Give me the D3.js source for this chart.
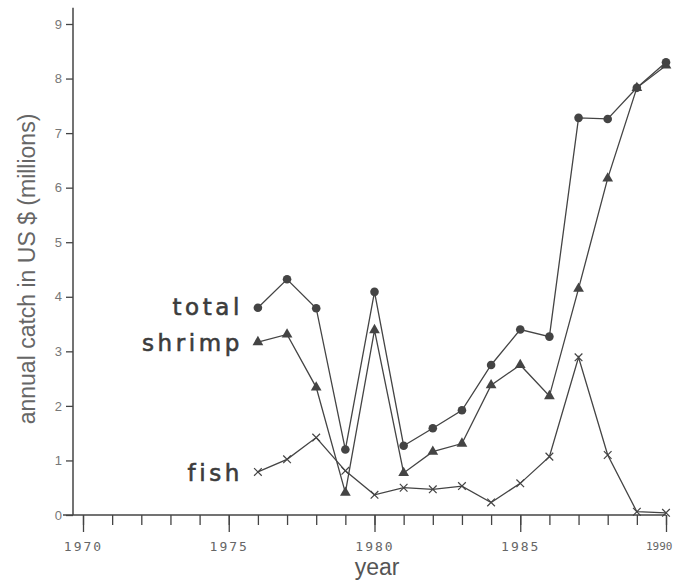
<!DOCTYPE html>
<html>
<head>
<meta charset="utf-8">
<script src="https://cdn.jsdelivr.net/npm/d3@7"></script>
<style>
  body { margin: 0; background: #fff; }
  svg { display: block; }
</style>
</head>
<body>
<div id="chart"></div>
<script>
/* Data */
const YEARS = [1976, 1977, 1978, 1979, 1980, 1981, 1982, 1983, 1984, 1985, 1986, 1987, 1988, 1989, 1990]
const TOTAL = [3.80, 4.32, 3.79, 1.20, 4.09, 1.27, 1.59, 1.92, 2.75, 3.40, 3.27, 7.28, 7.26, 7.83, 8.30]
const SHRIMP = [3.17, 3.31, 2.34, 0.41, 3.39, 0.77, 1.16, 1.31, 2.38, 2.75, 2.18, 4.15, 6.17, 7.83, 8.24]
const FISH = [0.79, 1.02, 1.42, 0.81, 0.37, 0.50, 0.47, 0.53, 0.23, 0.58, 1.07, 2.89, 1.10, 0.06, 0.04]
const X_TICKS = [1970, 1975, 1980, 1985, 1990]
const Y_TICKS = [0, 1, 2, 3, 4, 5, 6, 7, 8, 9]

/* Layout */
const WIDTH = 673
const HEIGHT = 582
const INK = "#444"
const AXIS_X = 73

const svg = d3.select("#chart")
              .append("svg")
              .attr("width", WIDTH)
              .attr("height", HEIGHT);

const x = d3.scaleLinear().domain([1970, 1990]).range([83, 666]);
const y = d3.scaleLinear().domain([0, 9]).range([515, 24]);

/* y axis */
const yAxis = svg.append("g")
                 .attr("transform", "translate(" + AXIS_X + ",0)")
                 .call(d3.axisLeft(y).tickValues(Y_TICKS).tickSize(7).tickPadding(4).tickFormat(d3.format("d")));
yAxis.select(".domain").remove();
yAxis.selectAll(".tick line").attr("stroke", INK).attr("stroke-width", 1.3);
yAxis.selectAll(".tick text")
     .attr("fill", "#777")
     .style("font-family", "Liberation Sans, Arial, sans-serif")
     .style("font-size", "13px");
svg.append("line")
   .attr("x1", AXIS_X).attr("x2", AXIS_X)
   .attr("y1", y(0)).attr("y2", y(9.3))
   .attr("stroke", INK).attr("stroke-width", 1.5);

/* x axis: minor ticks every year, major every five */
const xAxisG = svg.append("g").attr("transform", "translate(0," + y(0) + ")");
const minor = xAxisG.append("g")
                    .call(d3.axisBottom(x).ticks(20).tickSize(10).tickFormat(""));
minor.select(".domain").remove();
minor.selectAll(".tick line").attr("stroke", INK).attr("stroke-width", 1.3);
const major = xAxisG.append("g")
                    .call(d3.axisBottom(x).tickValues(X_TICKS).tickSize(17).tickPadding(10).tickFormat(d3.format("d")));
major.select(".domain").remove();
major.selectAll(".tick line").attr("stroke", INK).attr("stroke-width", 1.3);
major.selectAll(".tick text")
     .attr("fill", "#666")
     .style("font-family", "DejaVu Sans Mono, monospace")
     .style("font-size", "13px")
     .style("letter-spacing", "2px");
// last label sits against the right edge, squeezed as in the original
major.selectAll(".tick text")
     .filter((d) => d === 1990)
     .attr("text-anchor", "end")
     .attr("x", 6)
     .style("letter-spacing", "0px")
     .style("font-size", "11px");
svg.append("line")
   .attr("x1", AXIS_X - 10).attr("x2", x(1990))
   .attr("y1", y(0)).attr("y2", y(0))
   .attr("stroke", INK).attr("stroke-width", 1.5);

/* axis titles */
svg.append("text")
   .attr("x", 377).attr("y", 575)
   .attr("text-anchor", "middle")
   .attr("fill", "#555")
   .style("font-family", "Liberation Sans, Arial, sans-serif")
   .style("font-size", "23px")
   .text("year");
svg.append("text")
   .attr("transform", "translate(35,269) rotate(-90)")
   .attr("text-anchor", "middle")
   .attr("fill", "#666")
   .style("font-family", "Liberation Sans, Arial, sans-serif")
   .style("font-size", "23px")
   .text("annual catch in US $ (millions)");

/* series */
const line = (vals) => d3.line().x((d, i) => x(YEARS[i])).y((d) => y(d))(vals);
[TOTAL, SHRIMP, FISH].forEach((vals) => {
  svg.append("path")
     .attr("d", line(vals))
     .attr("fill", "none")
     .attr("stroke", INK)
     .attr("stroke-width", 1.3);
});

svg.append("g").selectAll("circle")
   .data(TOTAL).enter()
   .append("circle")
   .attr("cx", (d, i) => x(YEARS[i]))
   .attr("cy", (d) => y(d))
   .attr("r", 4.3)
   .attr("fill", INK);

svg.append("g").selectAll("path")
   .data(SHRIMP).enter()
   .append("path")
   .attr("transform", (d, i) => "translate(" + x(YEARS[i]) + "," + y(d) + ")")
   .attr("d", d3.symbol().type(d3.symbolTriangle).size(50))
   .attr("fill", INK);

svg.append("g").selectAll("path")
   .data(FISH).enter()
   .append("path")
   .attr("transform", (d, i) => "translate(" + x(YEARS[i]) + "," + y(d) + ")")
   .attr("d", d3.symbol().type(d3.symbolX).size(40))
   .attr("fill", "none")
   .attr("stroke", INK)
   .attr("stroke-width", 1.2);

/* series labels */
const LABELS = [["total", 315], ["shrimp", 351], ["fish", 481]];
svg.append("g").selectAll("text")
   .data(LABELS).enter()
   .append("text")
   .attr("x", 243)
   .attr("y", (d) => d[1])
   .attr("text-anchor", "end")
   .attr("fill", "#3c3c3c")
   .attr("stroke", "#3c3c3c")
   .attr("stroke-width", 0.6)
   .style("font-family", "DejaVu Sans, sans-serif")
   .style("font-size", "23px")
   .style("letter-spacing", "3.6px")
   .text((d) => d[0]);
</script>
</body>
</html>
